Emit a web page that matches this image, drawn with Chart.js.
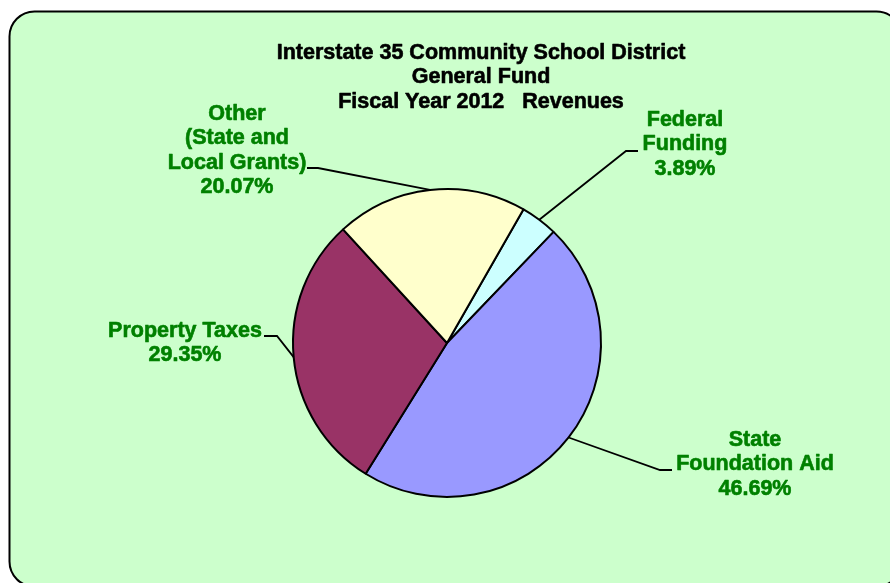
<!DOCTYPE html>
<html>
<head>
<meta charset="utf-8">
<script src="https://cdn.jsdelivr.net/npm/chart.js@4"></script>
<style>
  html, body { margin: 0; padding: 0; background: #fff; }
  #chart { display: block; }
</style>
</head>
<body>
<canvas id="chart" width="890" height="583"></canvas>
<script>
const titleLines = ['Interstate 35 Community School District', 'General Fund', 'Fiscal Year 2012   Revenues'];
const categories = [['Federal', 'Funding'], ['State', 'Foundation Aid'], ['Property Taxes'], ['Other', '(State and', 'Local Grants)']];
const percents = [3.89, 46.69, 29.35, 20.07];
const sliceColors = ['#ccffff', '#9999ff', '#993366', '#ffffcc'];

// where each label and its leader line sit
const labelLayout = [
  { x: 685, y: 120, elbow: [626, 151], end: [638, 151] },
  { x: 755, y: 440, elbow: [660, 470], end: [672, 470] },
  { x: 185, y: 331, elbow: [277, 336], end: [264, 336] },
  { x: 237, y: 114, elbow: [318, 168], end: [307, 168] }
];

const FONT = '"Liberation Sans", Arial, sans-serif';

// heavy text, close to the old office-chart look
function boldText(ctx, t, x, y, color) {
  ctx.fillStyle = color;
  ctx.strokeStyle = color;
  ctx.lineWidth = 0.6;
  ctx.lineJoin = 'round';
  ctx.fillText(t, x, y);
  ctx.strokeText(t, x, y);
}

const framePlugin = {
  id: 'frame',
  beforeDraw(chart) {
    const ctx = chart.ctx;
    ctx.save();
    ctx.fillStyle = '#fff';
    ctx.fillRect(0, 0, chart.width, chart.height);
    ctx.beginPath();
    ctx.roundRect(9.5, 11.5, 892, 575, 25);
    ctx.fillStyle = '#ccffcc';
    ctx.fill();
    ctx.lineWidth = 2;
    ctx.strokeStyle = '#000';
    ctx.stroke();
    ctx.restore();
  }
};

const labelPlugin = {
  id: 'labels',
  afterDraw(chart) {
    const ctx = chart.ctx;
    const meta = chart.getDatasetMeta(0);
    ctx.save();

    // title
    ctx.font = 'bold 21.5px ' + FONT;
    ctx.textAlign = 'center';
    ctx.textBaseline = 'middle';
    titleLines.forEach((t, i) => boldText(ctx, t, 481, 53 + i * 24.5, '#000'));

    meta.data.forEach((arc, i) => {
      const p = arc.getProps(['x', 'y', 'startAngle', 'endAngle', 'outerRadius'], true);
      const mid = (p.startAngle + p.endAngle) / 2;
      const sx = p.x + Math.cos(mid) * p.outerRadius;
      const sy = p.y + Math.sin(mid) * p.outerRadius;
      const lay = labelLayout[i];

      ctx.beginPath();
      ctx.moveTo(sx, sy);
      ctx.lineTo(lay.elbow[0], lay.elbow[1]);
      ctx.lineTo(lay.end[0], lay.end[1]);
      ctx.lineWidth = 1.8;
      ctx.lineJoin = 'miter';
      ctx.strokeStyle = '#000';
      ctx.stroke();

      const lines = chart.data.labels[i].concat(percents[i].toFixed(2) + '%');
      ctx.font = 'bold 21.5px ' + FONT;
      lines.forEach((t, j) => boldText(ctx, t, lay.x, lay.y + j * 24.5, '#008000'));
    });
    ctx.restore();
  }
};

new Chart(document.getElementById('chart'), {
  type: 'pie',
  data: {
    labels: categories,
    datasets: [{
      data: percents,
      backgroundColor: sliceColors,
      borderColor: '#000',
      borderWidth: 2
    }]
  },
  options: {
    responsive: false,
    animation: false,
    rotation: 29.8,
    layout: { padding: { top: 188, bottom: 85, left: 292, right: 288 } },
    plugins: {
      legend: { display: false },
      tooltip: { enabled: false }
    }
  },
  plugins: [framePlugin, labelPlugin]
});
</script>
</body>
</html>
